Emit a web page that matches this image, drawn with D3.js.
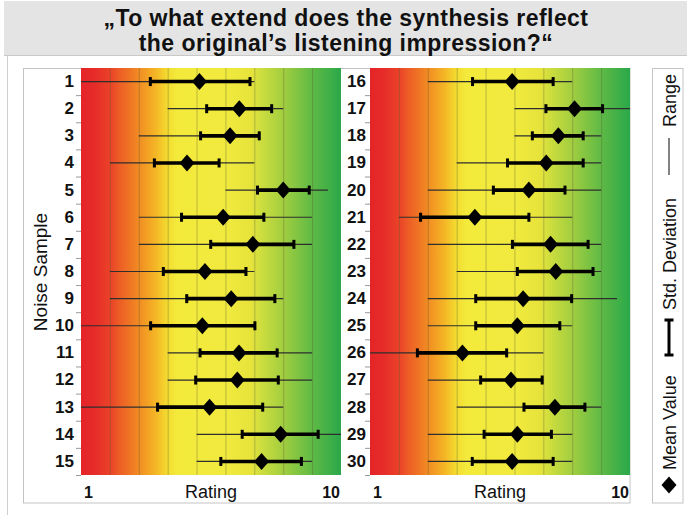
<!DOCTYPE html>
<html>
<head>
<meta charset="utf-8">
<script src="https://cdn.jsdelivr.net/npm/d3@7"></script>
<style>
  body { margin: 0; background: #fff; }
  svg { display: block; font-family: Arial, "Liberation Sans", Helvetica, sans-serif; }
</style>
</head>
<body>
<svg id="chart" width="687" height="515"></svg>
<script>
// Title
const titleLines = ["\u201ETo what extend does the synthesis reflect", "the original\u2019s listening impression?\u201C"];

// Noise samples, split over two panels
const samplesLeft  = [1, 2, 3, 4, 5, 6, 7, 8, 9, 10, 11, 12, 13, 14, 15];
const samplesRight = [16, 17, 18, 19, 20, 21, 22, 23, 24, 25, 26, 27, 28, 29, 30];

// Rating statistics per sample (scale 1..10)
const rangeMin = [1, 4, 3, 2, 6, 3, 3, 2, 2, 1, 4, 4, 1, 5, 5,
                  3, 6, 6, 4, 3, 2, 3, 4, 3, 3, 1, 3, 4, 3, 3];
const rangeMax = [7, 8, 7, 7, 9.55, 9, 9, 7, 8, 7, 9, 9, 8, 10, 9,
                  8, 10, 9, 9, 9, 8, 9, 9, 9.55, 8, 7, 7, 9, 8, 8];
const sdLow    = [3.40, 5.35, 5.14, 3.54, 7.11, 4.48, 5.49, 3.85, 4.66, 3.41, 5.12, 4.97, 3.65, 6.58, 5.84,
                  4.55, 7.09, 6.62, 5.76, 5.27, 2.75, 5.93, 6.10, 4.66, 4.66, 2.64, 4.83, 6.33, 4.95, 4.54];
const sdHigh   = [6.85, 7.60, 7.17, 5.78, 8.90, 7.33, 8.37, 6.71, 7.71, 7.02, 7.79, 7.83, 7.29, 9.21, 8.63,
                  7.34, 9.05, 8.38, 8.38, 7.75, 6.50, 8.55, 8.72, 7.98, 7.57, 5.73, 6.96, 8.44, 7.28, 7.34];
const meanValue = [5.10, 6.48, 6.16, 4.67, 8.00, 5.92, 6.95, 5.29, 6.20, 5.20, 6.47, 6.41, 5.45, 7.91, 7.25,
                   5.92, 8.08, 7.52, 7.10, 6.50, 4.63, 7.25, 7.43, 6.30, 6.10, 4.20, 5.88, 7.40, 6.10, 5.92];

const ratingDomain = [1, 10];
const ratingGrid = [1, 2, 3, 4, 5, 6, 7, 8, 9, 10];
const axisLabel = "Rating";
const yTitle = "Noise Sample";
const legendLabels = ["Mean Value", "Std. Deviation", "Range"];

const svg = d3.select("#chart");
const W = 687, H = 515;

// Background colour ramp red -> orange -> yellow -> green
const defs = svg.append("defs");
const grad = defs.append("linearGradient").attr("id", "ramp").attr("x1", 0).attr("x2", 1).attr("y1", 0).attr("y2", 0);
[
  [0.00, "#e42528"], [0.05, "#e62b29"], [0.111, "#ea4228"], [0.15, "#ed5e26"],
  [0.222, "#f18b22"], [0.29, "#f4b826"], [0.333, "#f3dc30"], [0.37, "#f3ea3b"],
  [0.56, "#f1ea3e"], [0.655, "#e6e33b"], [0.69, "#cfde3e"], [0.778, "#a2ce40"],
  [0.889, "#5fba45"], [1.00, "#2aa84a"]
].forEach(([o, c]) => grad.append("stop").attr("offset", o).attr("stop-color", c));

// Title banner
svg.append("rect").attr("x", 4).attr("y", 1).attr("width", W - 4).attr("height", 55).attr("fill", "#e4e4e4");
svg.append("line").attr("x1", 4).attr("x2", W).attr("y1", 55.5).attr("y2", 55.5).attr("stroke", "#c9c9c9");
svg.append("line").attr("x1", 7.5).attr("x2", 7.5).attr("y1", 56).attr("y2", H).attr("stroke", "#cfcfcf");

svg.append("g").selectAll("text").data(titleLines).join("text")
  .attr("x", 346).attr("y", (d, i) => 25.5 + i * 25.8)
  .attr("text-anchor", "middle").attr("font-size", 23).attr("letter-spacing", 0.45)
  .attr("font-weight", "bold").attr("fill", "#111")
  .text(d => d);

// Chart frame and legend frame
svg.append("rect").attr("x", 23.5).attr("y", 68.5).attr("width", 606.5).attr("height", 434.5)
  .attr("fill", "none").attr("stroke", "#c4c4c4");
svg.append("rect").attr("x", 652.5).attr("y", 68.5).attr("width", 30.5).attr("height", 434.5)
  .attr("fill", "#fff").attr("stroke", "#c4c4c4");

const plotTop = 68, plotBottom = 475;
const panels = [
  { samples: samplesLeft,  offset: 0,  x0: 81,  x1: 341, pad: 7 },
  { samples: samplesRight, offset: 15, x0: 370, x1: 630, pad: 4 }
];

const diamond = (cx, cy, hw, hh) => `M${cx},${cy - hh}L${cx + hw},${cy}L${cx},${cy + hh}L${cx - hw},${cy}Z`;

panels.forEach(p => {
  const x = d3.scaleLinear().domain(ratingDomain).range([p.x0, p.x1]);
  const y = d3.scaleBand().domain(p.samples).range([plotTop, plotBottom]);
  const g = svg.append("g");

  g.append("rect").attr("x", p.x0).attr("y", plotTop).attr("width", p.x1 - p.x0).attr("height", plotBottom - plotTop)
    .attr("fill", "url(#ramp)");

  // vertical grid
  g.append("g").selectAll("line").data(ratingGrid.slice(1, -1)).join("line")
    .attr("x1", d => x(d) + 0.5).attr("x2", d => x(d) + 0.5).attr("y1", plotTop).attr("y2", plotBottom)
    .attr("stroke", "#5a5a3a").attr("stroke-opacity", 0.35).attr("stroke-width", 1);

  // sample labels
  const yAxis = d3.axisLeft(y).tickSize(0).tickPadding(p.pad);
  const ax = g.append("g").attr("transform", `translate(${p.x0},0)`).call(yAxis);
  ax.select(".domain").remove();
  ax.selectAll("text").attr("font-size", 17).attr("font-weight", "bold").attr("fill", "#111")
    .attr("font-family", "Arial, 'Liberation Sans', sans-serif");

  // boundary ticks between rows
  g.append("g").selectAll("line").data(p.samples.slice(1).concat([null])).join("line")
    .attr("x1", p.x0 - 5).attr("x2", p.x0)
    .attr("y1", d => (d === null ? plotBottom : y(d)) + 0.5)
    .attr("y2", d => (d === null ? plotBottom : y(d)) + 0.5)
    .attr("stroke", "#9a9a9a");

  const rows = p.samples.map((s, i) => ({
    s,
    lo: rangeMin[p.offset + i], hi: rangeMax[p.offset + i],
    sl: sdLow[p.offset + i], sh: sdHigh[p.offset + i],
    m: meanValue[p.offset + i]
  }));
  const cy = d => y(d.s) + y.bandwidth() / 2;

  // range lines
  g.append("g").selectAll("line").data(rows).join("line")
    .attr("x1", d => x(d.lo)).attr("x2", d => x(d.hi))
    .attr("y1", cy).attr("y2", cy)
    .attr("stroke", "#2e2e2e").attr("stroke-width", 1.2);

  // std. deviation bars with caps
  g.append("g").selectAll("line").data(rows).join("line")
    .attr("x1", d => x(d.sl)).attr("x2", d => x(d.sh))
    .attr("y1", cy).attr("y2", cy)
    .attr("stroke", "#000").attr("stroke-width", 3.6);
  g.append("g").selectAll("rect").data(rows.flatMap(d => [{ v: d.sl, d }, { v: d.sh, d }])).join("rect")
    .attr("x", e => x(e.v) - 1.5).attr("y", e => cy(e.d) - 4.5)
    .attr("width", 3).attr("height", 9).attr("fill", "#000");

  // mean markers
  g.append("g").selectAll("path").data(rows).join("path")
    .attr("d", d => diamond(x(d.m), cy(d), 7.5, 8.5)).attr("fill", "#000");

  // x labels
  g.append("text").attr("x", p.x0 + 3).attr("y", 498).attr("font-size", 16).attr("font-weight", "bold")
    .attr("fill", "#111").text(ratingDomain[0]);
  g.append("text").attr("x", p.x1 - 1).attr("y", 498).attr("text-anchor", "end").attr("font-size", 16)
    .attr("font-weight", "bold").attr("fill", "#111").text(ratingDomain[1]);
  g.append("text").attr("x", (p.x0 + p.x1) / 2).attr("y", 498).attr("text-anchor", "middle")
    .attr("font-size", 18).attr("fill", "#111").text(axisLabel);
});

// y title
svg.append("text").attr("transform", "translate(47,272) rotate(-90)")
  .attr("text-anchor", "middle").attr("font-size", 19).attr("fill", "#111").text(yTitle);

// Legend (vertical, reads bottom to top)
const lg = svg.append("g");
const lx = 669;
lg.append("path").attr("d", diamond(lx, 485, 7.5, 8.5)).attr("fill", "#000");
lg.append("text").attr("transform", `translate(${lx + 6.5},470) rotate(-90)`)
  .attr("font-size", 18).attr("fill", "#111").text(legendLabels[0]);
lg.append("line").attr("x1", lx).attr("x2", lx).attr("y1", 320).attr("y2", 355).attr("stroke", "#000").attr("stroke-width", 3);
lg.append("rect").attr("x", lx - 4.5).attr("y", 318.5).attr("width", 9).attr("height", 3).attr("fill", "#000");
lg.append("rect").attr("x", lx - 4.5).attr("y", 353.5).attr("width", 9).attr("height", 3).attr("fill", "#000");
lg.append("text").attr("transform", `translate(${lx + 6.5},310) rotate(-90)`)
  .attr("font-size", 18).attr("fill", "#111").text(legendLabels[1]);
lg.append("line").attr("x1", lx).attr("x2", lx).attr("y1", 138).attr("y2", 175).attr("stroke", "#2e2e2e").attr("stroke-width", 1.2);
lg.append("text").attr("transform", `translate(${lx + 6.5},127) rotate(-90)`)
  .attr("font-size", 18).attr("fill", "#111").text(legendLabels[2]);
</script>
</body>
</html>
